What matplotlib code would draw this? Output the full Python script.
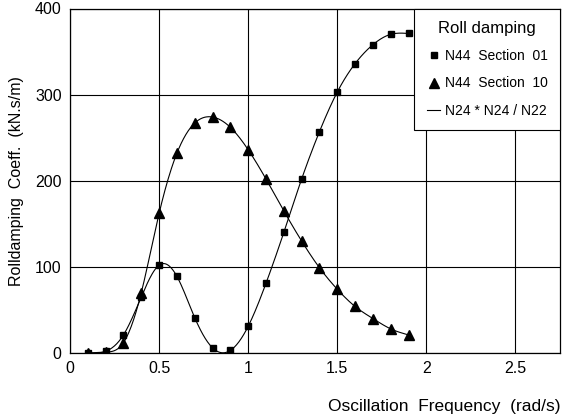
import numpy as np
import matplotlib
matplotlib.use("Agg")
import matplotlib.pyplot as plt
from matplotlib.lines import Line2D

plt.rcParams['font.family'] = ['Liberation Sans', 'DejaVu Sans']

freq = [0.1, 0.2, 0.3, 0.4, 0.5, 0.6, 0.7, 0.8, 0.9, 1.0,
        1.1, 1.2, 1.3, 1.4, 1.5, 1.6, 1.7, 1.8, 1.9]
sec01 = [0, 2, 21, 65, 102, 89, 41, 6, 3, 31,
         81, 140, 202, 257, 303, 336, 358, 370, 371]
sec10 = [0, 1, 12, 70, 162, 232, 267, 274, 262, 236,
         202, 165, 130, 99, 74, 54, 40, 28, 21]


def spline(x, y, n=400):
    # natural cubic spline through the points
    x = np.asarray(x, float)
    y = np.asarray(y, float)
    k = len(x)
    h = np.diff(x)
    A = np.zeros((k, k))
    b = np.zeros(k)
    A[0, 0] = A[-1, -1] = 1
    for i in range(1, k - 1):
        A[i, i - 1] = h[i - 1]
        A[i, i] = 2 * (h[i - 1] + h[i])
        A[i, i + 1] = h[i]
        b[i] = 6 * ((y[i + 1] - y[i]) / h[i] - (y[i] - y[i - 1]) / h[i - 1])
    M = np.linalg.solve(A, b)
    xs = np.linspace(x[0], x[-1], n)
    idx = np.clip(np.searchsorted(x, xs) - 1, 0, k - 2)
    x0, x1 = x[idx], x[idx + 1]
    hh = x1 - x0
    t0, t1 = x1 - xs, xs - x0
    ys = (M[idx] * t0**3 + M[idx + 1] * t1**3) / (6 * hh) \
        + (y[idx] / hh - M[idx] * hh / 6) * t0 \
        + (y[idx + 1] / hh - M[idx + 1] * hh / 6) * t1
    return xs, ys


fig = plt.figure(figsize=(5.71, 4.16), dpi=100)
ax = fig.add_axes([70 / 571, 63 / 416, 490 / 571, 344.5 / 416])

for vals in (sec01, sec10):
    xs, ys = spline(freq, vals)
    ax.plot(xs, ys, color='black', lw=0.8, zorder=3)

ax.plot(freq, sec01, 's', color='black', ms=5, zorder=4)
ax.plot(freq, sec10, '^', color='black', ms=7, zorder=4)

ax.set_xlim(0, 2.75)
ax.set_ylim(0, 400)
ax.set_xticks([0, 0.5, 1, 1.5, 2, 2.5])
ax.set_xticklabels(['0', '0.5', '1', '1.5', '2', '2.5'])
ax.set_yticks([0, 100, 200, 300, 400])
ax.tick_params(length=0, labelsize=11.5, pad=6)
ax.grid(True, color='black', lw=0.8)
ax.set_axisbelow(True)
for s in ax.spines.values():
    s.set_linewidth(0.9)

ax.set_xlabel('Oscillation  Frequency  (rad/s)', fontsize=12.5, loc='right', labelpad=16)
ax.set_ylabel('Rolldamping  Coeff.  (kN.s/m)', fontsize=11.5, labelpad=8)

handles = [
    Line2D([], [], ls='none', marker='s', color='black', ms=4.5),
    Line2D([], [], ls='none', marker='^', color='black', ms=7),
    Line2D([], [], color='black', lw=0.8),
]
labels = ['N44  Section  01', 'N44  Section  10', 'N24 * N24 / N22']
leg = ax.legend(handles, labels, title='Roll damping', loc='upper right',
                borderaxespad=0, fancybox=False, framealpha=1, fontsize=10,
                title_fontsize=12, handlelength=1.0, handletextpad=0.3,
                labelspacing=0.95, borderpad=0.9)
leg.get_frame().set_edgecolor('black')
leg.get_frame().set_linewidth(0.8)
leg.set_zorder(5)

fig.savefig('out.png', dpi=100)
